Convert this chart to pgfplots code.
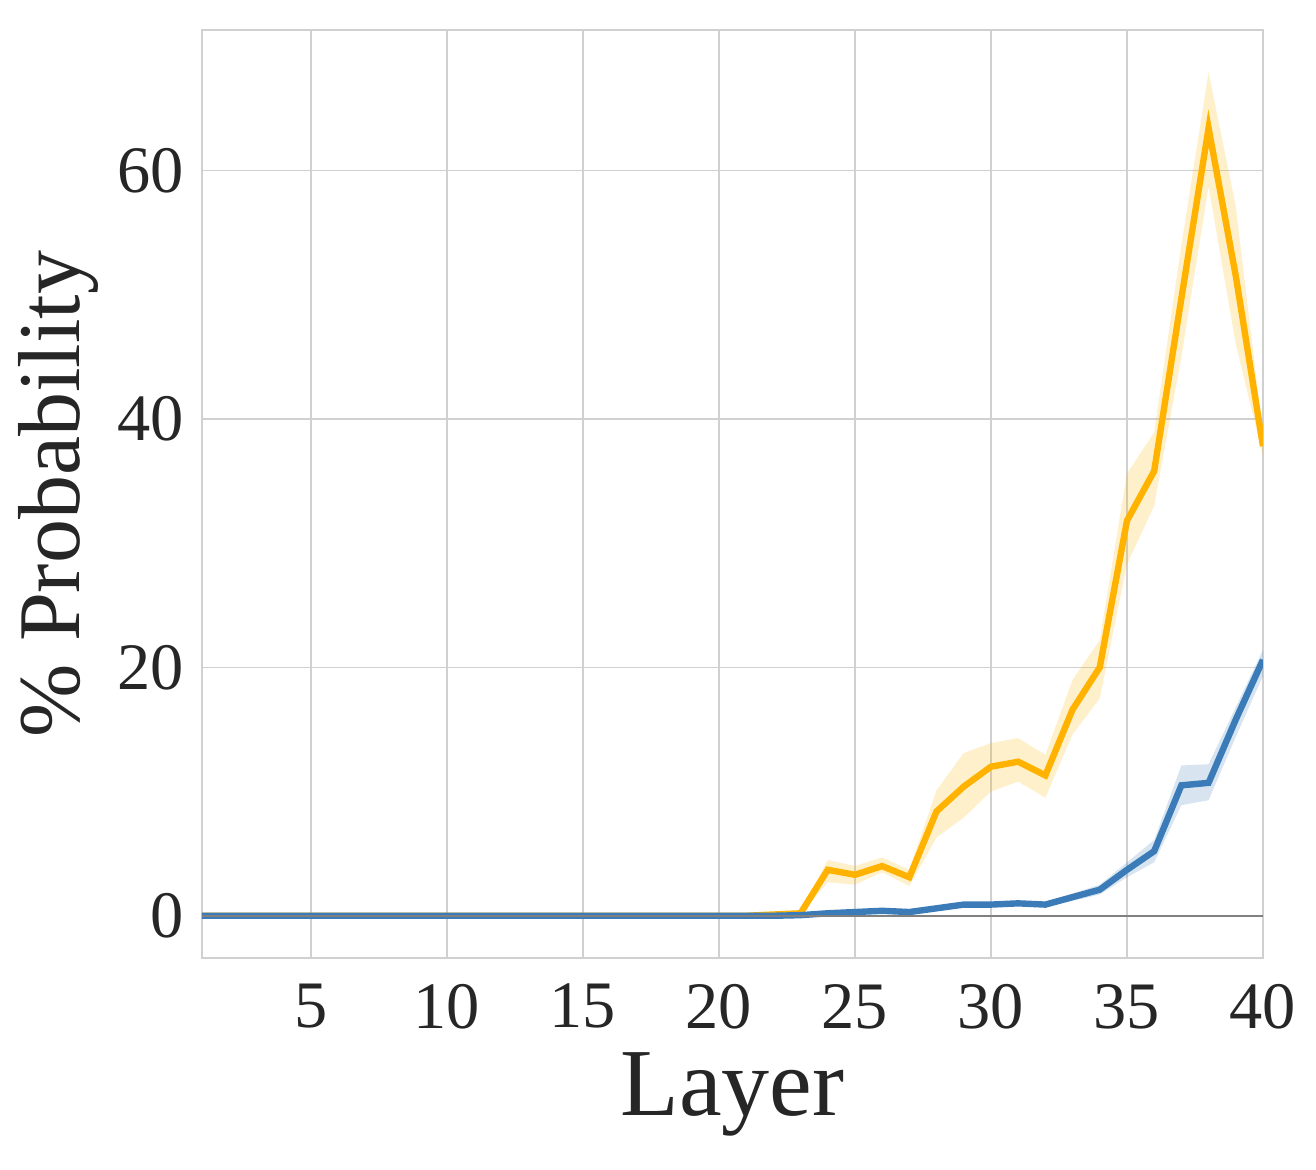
\documentclass[border=0pt]{standalone}
\usepackage{pgfplots}
\pgfplotsset{compat=1.18}
\usepackage{fontspec}
\setmainfont{Liberation Serif}
\definecolor{orng}{HTML}{FFB300}
\definecolor{blu}{HTML}{3A7BB8}
\definecolor{gridc}{HTML}{D0D0D0}
\definecolor{txt}{HTML}{262626}
\begin{document}
\begin{tikzpicture}
\begin{axis}[
  scale only axis,
  width=265.25pt, height=232pt,
  xmin=1, xmax=40, ymin=-3.4, ymax=71.3,
  xtick={5,10,15,20,25,30,35,40},
  ytick={0,20,40,60},
  /pgf/number format/assume math mode=true,
  tick style={draw=none},
  grid=major,
  major grid style={gridc, line width=0.35pt},
  axis line style={gridc, line width=0.6pt},
  tick label style={font=\fontsize{16.6}{18}\selectfont, text=txt},
  xlabel={Layer},
  ylabel={\% Probability},
  xticklabel style={yshift=-3pt},
  yticklabel style={xshift=-1pt},
  xlabel style={yshift=1pt, font=\fontsize{24}{28}\selectfont, text=txt},
  ylabel style={yshift=-2pt, font=\fontsize{22}{26}\selectfont, text=txt},
]
% orange band
\addplot[fill=orng, fill opacity=0.2, draw=none, forget plot] coordinates {
(22,0.1)(23,0.3)(24,4.5)(25,4.0)(26,4.7)(27,3.7)(28,10.1)(29,13.1)(30,13.9)(31,14.3)(32,12.95)(33,19.0)(34,22.2)(35,35.6)(36,38.9)(37,54.0)(38,67.9)(39,57.1)(40,38.8)
(40,37.0)(39,46.0)(38,58.7)(37,45.0)(36,33.0)(35,28.3)(34,17.5)(33,14.6)(32,9.5)(31,10.8)(30,10.0)(29,7.9)(28,6.3)(27,2.4)(26,3.5)(25,2.5)(24,2.7)(23,0.1)(22,0.0)
} -- cycle;
% blue band
\addplot[fill=blu, fill opacity=0.2, draw=none, forget plot] coordinates {
(23,0.1)(24,0.35)(25,0.45)(26,0.55)(27,0.5)(28,0.8)(29,1.1)(30,1.1)(31,1.2)(32,1.1)(33,1.8)(34,2.5)(35,4.3)(36,6.1)(37,12.1)(38,12.2)(39,16.8)(40,21.4)
(40,19.3)(39,14.4)(38,9.3)(37,8.9)(36,4.3)(35,3.1)(34,1.7)(33,1.2)(32,0.7)(31,0.8)(30,0.7)(29,0.7)(28,0.4)(27,0.15)(26,0.25)(25,0.15)(24,0.05)(23,0.0)
} -- cycle;
% orange line
\addplot[orng, line width=1.6pt] coordinates {
(1,0)(2,0)(3,0)(4,0)(5,0)(6,0)(7,0)(8,0)(9,0)(10,0)(11,0)(12,0)(13,0)(14,0)(15,0)(16,0)(17,0)(18,0)(19,0)(20,0)(21,0)(22,0.1)(23,0.2)
(24,3.7)(25,3.3)(26,4.0)(27,3.1)(28,8.4)(29,10.4)(30,12.0)(31,12.4)(32,11.3)(33,16.6)(34,20.0)(35,31.8)(36,35.8)(37,49.7)(38,63.4)(39,51.5)(40,37.8)
};
% blue line
\addplot[blu, line width=1.6pt] coordinates {
(1,0)(2,0)(3,0)(4,0)(5,0)(6,0)(7,0)(8,0)(9,0)(10,0)(11,0)(12,0)(13,0)(14,0)(15,0)(16,0)(17,0)(18,0)(19,0)(20,0)(21,0)(22,0)(23,0.05)
(24,0.2)(25,0.3)(26,0.4)(27,0.3)(28,0.6)(29,0.9)(30,0.9)(31,1.0)(32,0.9)(33,1.5)(34,2.1)(35,3.7)(36,5.2)(37,10.5)(38,10.7)(39,15.8)(40,20.6)
};
% zero line
\addplot[gray, line width=0.6pt] coordinates {(1,0)(40,0)};
\end{axis}
\pgfresetboundingbox
\path (current axis.south west) ++(-50.5pt,-52.75pt) rectangle ++(329pt,292.25pt);
\end{tikzpicture}
\end{document}
